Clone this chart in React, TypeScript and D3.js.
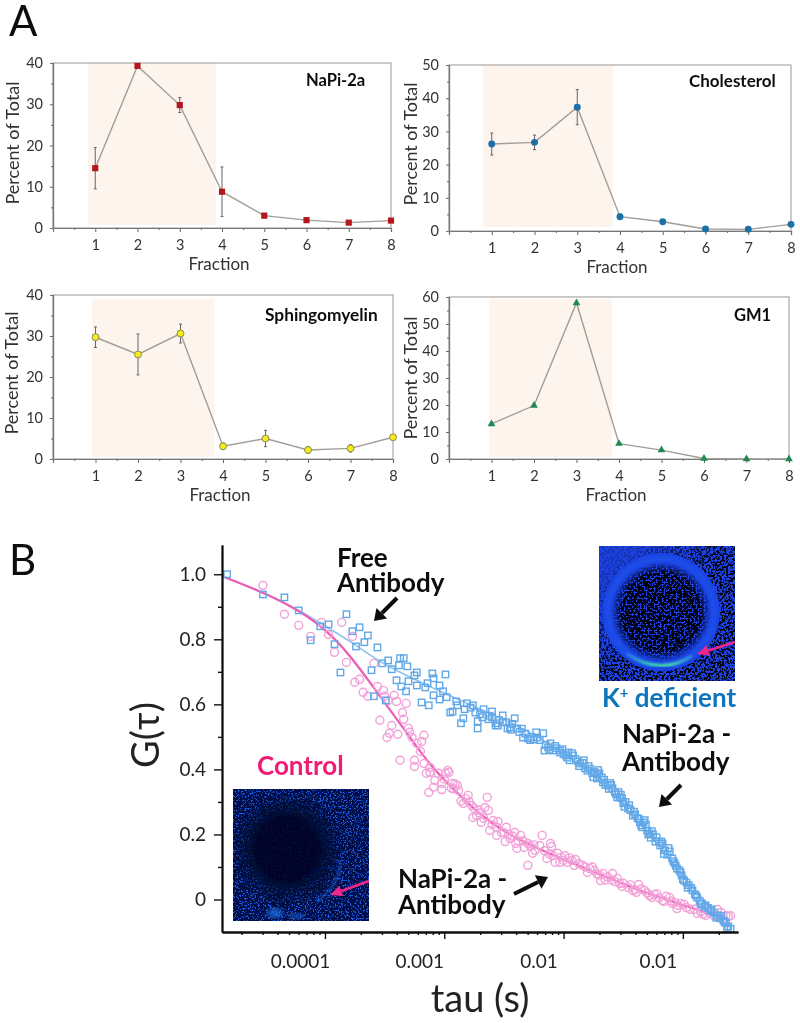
import { useEffect, useRef } from 'react';
import * as d3 from 'd3';

// panel A: percent of total per fraction, 0 error = no visible error bar
const fractions = [1, 2, 3, 4, 5, 6, 7, 8];
const napiValues = [14.5, 39.3, 29.8, 8.8, 3.0, 1.9, 1.3, 1.8];
const napiErrors = [5, 0, 1.8, 6, 0.5, 0, 0, 0];
const cholValues = [26.2, 26.7, 37.3, 4.3, 2.8, 0.6, 0.5, 2.0];
const cholErrors = [3.3, 2.2, 5.3, 0.8, 0, 0, 0, 0];
const sphingoValues = [29.7, 25.5, 30.6, 3.1, 5.0, 2.2, 2.6, 5.3];
const sphingoErrors = [2.5, 5, 2.3, 0.8, 2, 0.8, 0.9, 0.5];
const gm1Values = [13, 19.8, 57.8, 5.7, 3.3, 0.2, 0, 0];
const gm1Errors = [0, 0, 0, 0, 0, 0, 0, 0];

// panel B: [log10 tau, G]
const freeFit = [[-4.84, .991], [-4.52, .945], [-4.21, .889], [-3.87, .812], [-3.73, .78], [-3.54, .729], [-3.2, .668], [-2.87, .612], [-2.37, .535], [-2.03, .458], [-1.7, .37], [-1.36, .237], [-1, .068], [-.62, -.086]];
const controlFit = [[-4.84, .991], [-4.52, .945], [-4.21, .889], [-3.93, .812], [-3.71, .712], [-3.51, .61], [-3.31, .511], [-3.12, .412], [-2.89, .326], [-2.68, .255], [-2.45, .197], [-2.22, .158], [-1.97, .118], [-1.84, .1], [-1.44, .037], [-1, -.018], [-.77, -.043], [-.65, -.058]];

const deficientPoints = [
  [-4.82, 1], [-4.52, .938], [-4.34, .929], [-4.22, .889], [-4.04, .84], [-3.97, .846], [-3.82, .877], [-3.77, .825], [-3.71, .837], [-3.64, .812],
  [-3.67, .791], [-3.74, .778], [-3.92, .785], [-4.12, .797], [-3.56, .775], [-3.87, .698], [-3.61, .705], [-3.52, .726], [-3.47, .735], [-3.59, .625],
  [-3.49, .612], [-3.44, .708], [-3.37, .742], [-3.34, .742], [-3.38, .72], [-3.31, .717], [-3.23, .698], [-3.25, .689], [-2.99, .692], [-3.1, .695],
  [-3.4, .674], [-3.3, .671], [-3.36, .655], [-3.32, .64], [-3.23, .658], [-3.14, .665], [-3.16, .652], [-3.09, .68], [-3.04, .658], [-3.01, .64],
  [-3.09, .628], [-3.04, .615], [-2.98, .622], [-3.19, .606], [-3.13, .597], [-2.9, .609], [-2.89, .597], [-2.81, .603], [-2.76, .597], [-2.83, .585],
  [-2.95, .575], [-2.93, .578], [-2.74, .575], [-2.67, .585], [-2.6, .578], [-2.51, .566], [-2.84, .557], [-2.86, .542], [-2.72, .548], [-2.68, .56],
  [-2.63, .554], [-2.57, .535], [-2.72, .526], [-2.47, .526], [-2.51, .545], [-2.45, .529], [-2.41, .557], [-2.56, .542], [-2.39, .526], [-2.34, .498],
  [-2.23, .514], [-2.17, .511], [-2.3, .495], [-2.11, .48], [-2.16, .458], [-2.09, .458], [-2.03, .458], [-2.03, .452], [-1.98, .443], [-1.92, .443],
  [-1.95, .428], [-1.86, .418], [-1.82, .403], [-1.76, .388], [-1.7, .388], [-1.72, .385], [-1.67, .36], [-1.63, .351], [-1.59, .342], [-1.55, .314],
  [-1.51, .311], [-1.53, .314], [-1.46, .28], [-1.42, .258], [-1.36, .237], [-1.33, .237], [-1.3, .212], [-1.28, .203], [-1.22, .191], [-1.19, .166],
  [-1.15, .151], [-1.09, .126], [-1.05, .095], [-1.01, .074], [-.97, .052], [-.92, .028], [-.88, .006], [-.84, -.012], [-.77, -.034], [-.71, -.049],
  [-.66, -.065], [-.62, -.083], [-2.13, .468], [-2.06, .465], [-2, .447], [-1.96, .452], [-1.9, .432], [-1.88, .425], [-1.84, .42], [-1.8, .396],
  [-1.78, .402], [-1.74, .392], [-1.72, .372], [-1.68, .375], [-1.65, .352], [-1.61, .358], [-1.57, .33], [-1.54, .33], [-1.5, .296], [-1.48, .3],
  [-1.44, .275], [-1.4, .262], [-1.38, .25], [-1.34, .222], [-1.31, .23], [-1.27, .19], [-1.25, .2], [-1.2, .178], [-1.17, .172], [-1.13, .138],
  [-1.11, .148], [-1.07, .112], [-1.03, .09], [-.99, .058], [-.95, .044], [-.9, .016], [-.86, -.004], [-.82, -.022], [-.79, -.026], [-.74, -.04],
  [-.69, -.058], [-.64, -.072], [-.6, -.09], [-2.78, .59], [-2.7, .57], [-2.62, .565], [-2.54, .552], [-2.48, .545], [-2.43, .54], [-2.37, .515],
  [-2.32, .51], [-2.27, .5], [-2.25, .492], [-2.2, .49], [-2.15, .475],
  [-2.6, .56], [-2.55, .535], [-2.44, .522], [-2.35, .525], [-2.28, .49], [-2.22, .498], [-2.12, .46], [-2.07, .472], [-2.01, .462], [-1.97, .436],
  [-1.93, .45], [-1.87, .41], [-1.83, .428], [-1.79, .41], [-1.75, .376], [-1.71, .398], [-1.66, .368], [-1.62, .34], [-1.6, .352], [-1.56, .324],
  [-1.52, .322], [-1.49, .285], [-1.45, .29], [-1.41, .27], [-1.37, .248], [-1.35, .228], [-1.32, .244], [-1.29, .2], [-1.26, .21], [-1.23, .178],
  [-1.18, .178], [-1.16, .14], [-1.12, .158], [-1.08, .118], [-1.06, .104], [-1.02, .084], [-1, .062], [-.96, .036], [-.93, .036], [-.89, .012],
  [-.85, -.014], [-.81, -.018], [-.76, -.03], [-.72, -.056], [-.68, -.05], [-.65, -.07], [-.63, -.088],
];

const controlPoints = [
  [-4.52, .966], [-4.34, .877], [-4.22, .843], [-4.12, .809], [-4.03, .852], [-3.86, .852], [-3.97, .815], [-3.77, .809], [-3.92, .76], [-3.82, .729],
  [-3.59, .726], [-3.75, .668], [-3.71, .677], [-3.68, .637], [-3.64, .625], [-3.56, .655], [-3.51, .643], [-3.5, .625], [-3.47, .612], [-3.42, .628],
  [-3.4, .609], [-3.32, .603], [-3.35, .575], [-3.34, .554], [-3.54, .551], [-3.44, .535], [-3.3, .526], [-3.29, .514], [-3.46, .511], [-3.39, .508],
  [-3.48, .498], [-3.17, .505], [-3.19, .486], [-3.27, .498], [-3.23, .48], [-3.2, .455], [-3.37, .428], [-3.25, .428], [-3.17, .418], [-3.25, .409],
  [-3.12, .406], [-2.97, .397], [-3.12, .391], [-3.15, .388], [-2.96, .391], [-2.99, .388], [-3.05, .388], [-3.08, .366], [-3.02, .357], [-2.93, .357],
  [-2.89, .351], [-3.09, .345], [-3.13, .329], [-3.02, .338], [-2.94, .342], [-2.88, .335], [-2.8, .32], [-2.64, .314], [-2.86, .302], [-2.84, .295],
  [-2.77, .289], [-2.66, .283], [-2.63, .274], [-2.76, .252], [-2.73, .258], [-2.69, .237], [-2.59, .243], [-2.62, .212], [-2.56, .222], [-2.56, .197],
  [-2.48, .222], [-2.52, .206], [-2.49, .178], [-2.41, .206], [-2.45, .188], [-2.36, .197], [-2.39, .157], [-2.33, .16], [-2.3, .172], [-2.26, .142],
  [-2.18, .197], [-2.24, .151], [-2.2, .166], [-2.11, .172], [-2.14, .126], [-2.3, .105], [-2.05, .142], [-2.07, .114], [-1.99, .135], [-1.97, .114],
  [-2.1, .163], [-2.09, .135], [-2.03, .114], [-1.9, .123], [-1.93, .12], [-1.84, .105], [-1.8, .083], [-1.74, .089], [-1.69, .058], [-1.67, .08],
  [-1.59, .08], [-1.55, .065], [-1.53, .049], [-1.46, .037], [-1.37, .046], [-1.42, .028], [-1.32, .028], [-1.22, .018], [-1.26, .006], [-1.17, -.003],
  [-1.11, .006], [-1.07, -.009], [-1.05, -.028], [-.97, -.025], [-.88, -.043], [-.81, -.049], [-.71, -.031], [-.62, -.052], [-.66, -.058], [-.77, -.043],
  [-2.92, .34], [-2.82, .31], [-2.75, .28], [-2.7, .265], [-2.6, .23], [-2.5, .205], [-2.43, .195], [-2.38, .18], [-2.28, .165], [-2.16, .15],
  [-2.02, .13], [-1.95, .128], [-1.87, .11], [-1.78, .095], [-1.72, .078], [-1.63, .07], [-1.57, .055], [-1.5, .05], [-1.4, .03], [-1.35, .032],
  [-1.28, .012], [-1.2, .005], [-1.14, .01], [-1.09, -.012], [-1.02, -.012], [-.94, -.03], [-.85, -.038], [-.74, -.05], [-.68, -.04], [-.6, -.05],
  [-3.0, .37], [-2.91, .355], [-2.79, .3], [-2.71, .275], [-2.67, .25], [-2.55, .24], [-2.46, .2], [-2.4, .172], [-2.34, .18], [-2.25, .168],
  [-2.12, .14], [-2.0, .12], [-1.91, .105], [-1.82, .1], [-1.76, .1], [-1.7, .075], [-1.65, .06], [-1.6, .06], [-1.51, .04], [-1.44, .045],
  [-1.39, .022], [-1.3, .02], [-1.24, .015], [-1.16, -.006], [-1.1, -.005], [-1.04, -.018], [-.99, -.015], [-.9, -.03], [-.83, -.045], [-.79, -.035],
  [-.7, -.05], [-.64, -.05],
];

const gTickLabels = ['0', '0.2', '0.4', '0.6', '0.8', '1.0'];
const gTicks = [0, 0.2, 0.4, 0.6, 0.8, 1.0];
const gMinorTicks = [0.1, 0.3, 0.5, 0.7, 0.9];
const tauTicks = [1e-4, 1e-3, 1e-2, 1e-1];
const tauTickLabels = ['0.0001', '0.001', '0.01', '0.01'];

const FONT = 'Lato, "Open Sans", sans-serif';

const panels = [
  { title: 'NaPi-2a', values: napiValues, errors: napiErrors, yMax: 40, yStep: 10, box: [53, 391, 63, 228], shade: [0.83, 3.86, 40, 0.7], titleAt: [306, 86, 16.5], yTitle: [19, 143], marker: 'square', color: '#b3141c' },
  { title: 'Cholesterol', values: cholValues, errors: cholErrors, yMax: 50, yStep: 10, box: [449, 791, 65, 231], shade: [0.8, 3.83, 50, 1.2], titleAt: [689, 87, 17], yTitle: [417, 144], marker: 'circle', color: '#1f6fa8' },
  { title: 'Sphingomyelin', values: sphingoValues, errors: sphingoErrors, yMax: 40, yStep: 10, box: [53, 393, 295, 459], shade: [0.92, 3.8, 39, 0.5], titleAt: [265, 321, 17.3], yTitle: [18, 373], marker: 'circle', color: '#f4ec12' },
  { title: 'GM1', values: gm1Values, errors: gm1Errors, yMax: 60, yStep: 10, box: [449, 789, 297, 459], shade: [0.94, 3.83, 59.3, 0.7], titleAt: [734, 321, 16.5], yTitle: [417, 378], marker: 'triangle', color: '#1e8a50' },
];

const arrows = [
  [397, 598, 374, 621],
  [681, 785, 659, 807],
  [514, 894, 548, 877],
];

const labels = [
  { lines: ['A'], x: 9, y: 36, step: 0, size: 42, color: '#111', weight: 400 },
  { lines: ['B'], x: 9, y: 575, step: 0, size: 42, color: '#111', weight: 400 },
  { lines: ['Free', 'Antibody'], x: 337, y: 567, step: 25, size: 26, color: '#111', weight: 700 },
  { lines: ['NaPi-2a -', 'Antibody'], x: 622, y: 743, step: 28, size: 26, color: '#111', weight: 700 },
  { lines: ['NaPi-2a -', 'Antibody'], x: 398, y: 888, step: 26, size: 26, color: '#111', weight: 700 },
  { lines: ['Control'], x: 257, y: 775, step: 0, size: 26, color: '#ee1a72', weight: 700 },
];

function drawPanel(root: any, p: any) {
  const [left, right, top, bottom] = p.box;
  const x = d3.scaleLinear().domain([0, 8]).range([left, right]);
  const y = d3.scaleLinear().domain([0, p.yMax]).range([bottom, top]);
  const g = root.append('g');

  g.append('rect')
    .attr('x', x(p.shade[0]))
    .attr('y', y(p.shade[2]))
    .attr('width', x(p.shade[1]) - x(p.shade[0]))
    .attr('height', y(p.shade[3]) - y(p.shade[2]))
    .attr('fill', '#fdf4ee');

  g.append('rect')
    .attr('x', left).attr('y', top)
    .attr('width', right - left).attr('height', bottom - top)
    .attr('fill', 'none').attr('stroke', '#a8a8a8').attr('stroke-width', 1.2);

  const yAxis = d3.axisLeft(y).tickValues(d3.range(0, p.yMax + 1, p.yStep)).tickSize(3).tickPadding(7);
  const xAxis = d3.axisBottom(x).tickValues(fractions).tickSize(4).tickPadding(8);
  const yMinor = d3.axisRight(y).tickValues(d3.range(p.yStep / 2, p.yMax, p.yStep)).tickSize(-2).tickFormat(() => '');
  const xMinor = d3.axisBottom(x).tickValues(d3.range(0.5, 8, 1)).tickSize(2).tickFormat(() => '');

  [
    { axis: yAxis, at: `translate(${left},0)` },
    { axis: xAxis, at: `translate(0,${bottom})` },
    { axis: yMinor, at: `translate(${left},0)` },
    { axis: xMinor, at: `translate(0,${bottom})` },
  ].forEach(({ axis, at }) => {
    g.append('g')
      .attr('transform', at)
      .call(axis)
      .call((a: any) => a.selectAll('.domain').attr('stroke', '#777').attr('stroke-width', 1.2))
      .call((a: any) => a.selectAll('line').attr('stroke', '#666'))
      .call((a: any) => a.selectAll('text').attr('fill', '#333').attr('font-size', 14.5).attr('font-family', FONT));
  });

  const line = d3.line<number>().x((_, i) => x(fractions[i])).y(d => y(d));
  g.append('path')
    .attr('d', line(p.values))
    .attr('fill', 'none')
    .attr('stroke', '#a39d96')
    .attr('stroke-width', 1.4);

  p.values.forEach((v: number, i: number) => {
    const e = p.errors[i];
    if (!e) return;
    const cx = x(fractions[i]);
    g.append('line').attr('x1', cx).attr('x2', cx).attr('y1', y(v - e)).attr('y2', y(v + e)).attr('stroke', '#666').attr('stroke-width', 1);
    [v - e, v + e].forEach(c => {
      g.append('line').attr('x1', cx - 1.5).attr('x2', cx + 1.5).attr('y1', y(c)).attr('y2', y(c)).attr('stroke', '#666');
    });
  });

  const symbolType = p.marker === 'square' ? d3.symbolSquare : p.marker === 'circle' ? d3.symbolCircle : d3.symbolTriangle;
  const symbol = d3.symbol().type(symbolType).size(p.marker === 'triangle' ? 26 : 38);
  p.values.forEach((v: number, i: number) => {
    g.append('path')
      .attr('d', symbol())
      .attr('transform', `translate(${x(fractions[i])},${y(v)})`)
      .attr('fill', p.color)
      .attr('stroke', p.color === '#f4ec12' ? '#8a8a60' : 'none');
  });

  g.append('text')
    .attr('x', p.titleAt[0]).attr('y', p.titleAt[1])
    .attr('font-size', p.titleAt[2]).attr('font-weight', 700)
    .attr('font-family', FONT).attr('fill', '#111')
    .text(p.title);

  g.append('text')
    .attr('x', (left + right) / 2 - 3).attr('y', bottom + 42)
    .attr('text-anchor', 'middle')
    .attr('font-size', 17).attr('font-family', FONT).attr('fill', '#333')
    .text('Fraction');

  g.append('text')
    .attr('transform', `translate(${p.yTitle[0]},${p.yTitle[1]}) rotate(-90)`)
    .attr('text-anchor', 'middle')
    .attr('font-size', 18).attr('font-family', FONT).attr('fill', '#333')
    .text('Percent of Total');
}

function drawCorrelation(root: any) {
  const x = d3.scaleLog().domain([10 ** -4.863, 10 ** -0.538]).range([222, 738]);
  const y = d3.scaleLinear().domain([-0.1, 1.09]).range([932, 545]);
  const g = root.append('g');
  const px = (d: number[]) => x(10 ** d[0]);
  const py = (d: number[]) => y(d[1]);

  const fit = d3.line<number[]>().x(px).y(py).curve(d3.curveBasis);
  g.append('path').attr('d', fit(freeFit)).attr('fill', 'none').attr('stroke', '#8cc3ef').attr('stroke-width', 1.6);
  g.append('path').attr('d', fit(controlFit)).attr('fill', 'none').attr('stroke', '#ee5cb6').attr('stroke-width', 2.2);

  g.selectAll('circle.control')
    .data(controlPoints)
    .join('circle')
    .attr('class', 'control')
    .attr('cx', px).attr('cy', py).attr('r', 4)
    .attr('fill', 'none').attr('stroke', '#f2a0d8').attr('stroke-width', 1.4);

  g.selectAll('rect.deficient')
    .data(deficientPoints)
    .join('rect')
    .attr('class', 'deficient')
    .attr('x', (d: number[]) => px(d) - 3.2).attr('y', (d: number[]) => py(d) - 3.2)
    .attr('width', 6.4).attr('height', 6.4)
    .attr('fill', 'none').attr('stroke', '#62a8e8').attr('stroke-width', 1.4);

  const style = (a: any) => {
    a.selectAll('.domain').attr('stroke', '#111').attr('stroke-width', 1.8);
    a.selectAll('line').attr('stroke', '#111').attr('stroke-width', 1.4);
    a.selectAll('text').attr('fill', '#222').attr('font-size', 19).attr('font-family', FONT);
  };

  g.append('g').attr('transform', 'translate(222,0)')
    .call(d3.axisLeft(y).tickValues(gMinorTicks).tickSize(4).tickSizeOuter(0).tickFormat(() => ''))
    .call(style);
  g.append('g').attr('transform', 'translate(222,0)')
    .call(d3.axisLeft(y).tickValues(gTicks).tickSize(8).tickSizeOuter(0).tickPadding(8)
      .tickFormat((_, i) => gTickLabels[i]))
    .call(style);

  const minor = x.ticks().filter(t => !tauTicks.some(m => Math.abs(m - t) / m < 1e-6));
  g.append('g').attr('transform', 'translate(0,932)')
    .call(d3.axisBottom(x).tickValues(minor).tickSize(3).tickSizeOuter(0).tickFormat(() => ''))
    .call(style);
  g.append('g').attr('transform', 'translate(0,932)')
    .call(d3.axisBottom(x).tickValues(tauTicks).tickSize(7).tickSizeOuter(0).tickPadding(16)
      .tickFormat((_, i) => tauTickLabels[i]))
    .call(style)
    .call((a: any) => a.selectAll('text').attr('dx', -25));

  g.append('text')
    .attr('x', 480).attr('y', 1012)
    .attr('text-anchor', 'middle')
    .attr('font-size', 38).attr('font-family', FONT).attr('fill', '#222')
    .text('tau (s)');

  g.append('text')
    .attr('transform', 'translate(159,735) rotate(-90)')
    .attr('text-anchor', 'middle')
    .attr('font-size', 38).attr('font-family', FONT).attr('fill', '#222')
    .text('G(τ)');
}

function drawLabels(root: any) {
  labels.forEach(l => {
    const t = root.append('text')
      .attr('x', l.x).attr('y', l.y)
      .attr('font-size', l.size).attr('font-weight', l.weight)
      .attr('font-family', FONT).attr('fill', l.color);
    l.lines.forEach((s, i) => {
      t.append('tspan').attr('x', l.x).attr('dy', i === 0 ? 0 : l.step).text(s);
    });
  });

  const k = root.append('text')
    .attr('x', 602).attr('y', 707)
    .attr('font-size', 26).attr('font-weight', 700)
    .attr('font-family', FONT).attr('fill', '#0f75bc');
  k.append('tspan').text('K');
  k.append('tspan').attr('font-size', 15).attr('dy', -9).text('+');
  k.append('tspan').attr('dy', 9).text(' deficient');

  arrows.forEach(([x1, y1, x2, y2]) => {
    const a = Math.atan2(y2 - y1, x2 - x1);
    const bx = x2 - 11 * Math.cos(a);
    const by = y2 - 11 * Math.sin(a);
    root.append('line')
      .attr('x1', x1).attr('y1', y1).attr('x2', bx).attr('y2', by)
      .attr('stroke', '#111').attr('stroke-width', 4);
    const nx = -Math.sin(a) * 7.5;
    const ny = Math.cos(a) * 7.5;
    root.append('path')
      .attr('d', `M${x2},${y2}L${bx + nx},${by + ny}L${bx - nx},${by - ny}Z`)
      .attr('fill', '#111');
  });
}

function pinkArrow(g: any, x1: number, y1: number, x2: number, y2: number) {
  const a = Math.atan2(y2 - y1, x2 - x1);
  const bx = x2 - 12 * Math.cos(a);
  const by = y2 - 12 * Math.sin(a);
  const nx = -Math.sin(a) * 5.5;
  const ny = Math.cos(a) * 5.5;
  g.append('line').attr('x1', x1).attr('y1', y1).attr('x2', bx).attr('y2', by).attr('stroke', '#f0288c').attr('stroke-width', 2.6);
  g.append('path').attr('d', `M${x2},${y2}L${bx + nx},${by + ny}L${bx - nx},${by - ny}Z`).attr('fill', '#f0288c');
}

// the two micrographs: speckle comes from an svg noise filter
function drawImages(root: any) {
  const defs = root.append('defs');
  const speckle = (id: string, freq: number, seed: number, r: number, g: number, b: number, k: number, c: number) => {
    const f = defs.append('filter').attr('id', id).attr('x', 0).attr('y', 0).attr('width', 1).attr('height', 1)
      .attr('color-interpolation-filters', 'sRGB');
    f.append('feTurbulence').attr('type', 'fractalNoise').attr('baseFrequency', freq).attr('numOctaves', 2).attr('seed', seed);
    f.append('feColorMatrix').attr('type', 'matrix').attr('values', `0 0 0 0 ${r} 0 0 0 0 ${g} 0 0 0 0 ${b} ${k} 0 0 0 ${-c}`);
  };
  speckle('darkDense', 0.45, 9, 0, 0, 0.03, 12, 5.7);
  speckle('darkHeavy', 0.5, 5, 0, 0, 0.03, 12, 5.0);
  speckle('blueSpeck', 0.6, 7, 0.1, 0.36, 0.92, 10, 5.5);

  const soft = defs.append('filter').attr('id', 'soft');
  soft.append('feGaussianBlur').attr('stdDeviation', 2);
  const softer = defs.append('filter').attr('id', 'softer');
  softer.append('feGaussianBlur').attr('stdDeviation', 0.8);

  const arc = defs.append('linearGradient').attr('id', 'arcGrad');
  [['0%', '#2c7be8'], ['35%', '#35d8b0'], ['65%', '#4ce8a0'], ['100%', '#2c8ae8']].forEach(([o, c]) => {
    arc.append('stop').attr('offset', o).attr('stop-color', c);
  });

  const cpK = defs.append('clipPath').attr('id', 'clipK');
  cpK.append('rect').attr('x', 599).attr('y', 546).attr('width', 136).attr('height', 135);
  const cpC = defs.append('clipPath').attr('id', 'clipC');
  cpC.append('rect').attr('x', 233).attr('y', 789).attr('width', 136).attr('height', 132);

  // outside the ring the dark speckle thickens towards the lower right
  const outerFade = defs.append('linearGradient').attr('id', 'outerFade').attr('x1', 0).attr('y1', 0).attr('x2', 1).attr('y2', 1);
  outerFade.append('stop').attr('offset', '12%').attr('stop-color', '#333');
  outerFade.append('stop').attr('offset', '50%').attr('stop-color', '#fff');
  const outerMask = defs.append('mask').attr('id', 'outerMask');
  outerMask.append('rect').attr('x', 599).attr('y', 546).attr('width', 136).attr('height', 135).attr('fill', 'url(#outerFade)');
  outerMask.append('circle').attr('cx', 661).attr('cy', 612).attr('r', 59).attr('fill', '#000');

  // inside the ring it fades out near the membrane
  const innerFade = defs.append('radialGradient').attr('id', 'innerFade');
  innerFade.append('stop').attr('offset', '78%').attr('stop-color', '#fff');
  innerFade.append('stop').attr('offset', '100%').attr('stop-color', '#000');
  const innerMask = defs.append('mask').attr('id', 'innerMask');
  innerMask.append('circle').attr('cx', 661).attr('cy', 612).attr('r', 50).attr('fill', 'url(#innerFade)');

  const k = root.append('g').attr('clip-path', 'url(#clipK)');
  k.append('rect').attr('x', 599).attr('y', 546).attr('width', 136).attr('height', 135).attr('fill', '#1b42e2');
  k.append('rect').attr('x', 599).attr('y', 546).attr('width', 136).attr('height', 135).attr('filter', 'url(#darkDense)').attr('mask', 'url(#outerMask)');
  k.append('rect').attr('x', 605).attr('y', 556).attr('width', 112).attr('height', 112).attr('filter', 'url(#darkHeavy)').attr('mask', 'url(#innerMask)');
  k.append('circle').attr('cx', 661).attr('cy', 612).attr('r', 53).attr('fill', 'none').attr('stroke', '#2460f0').attr('stroke-width', 4).attr('opacity', 0.6).attr('filter', 'url(#soft)');
  k.append('path').attr('d', 'M627,654Q660,676 692,656').attr('fill', 'none').attr('stroke', 'url(#arcGrad)').attr('stroke-width', 3).attr('filter', 'url(#softer)');
  pinkArrow(k, 735, 642, 697, 654);

  const c = root.append('g').attr('clip-path', 'url(#clipC)');
  c.append('rect').attr('x', 233).attr('y', 789).attr('width', 136).attr('height', 132).attr('fill', '#020c44');
  c.append('rect').attr('x', 233).attr('y', 789).attr('width', 136).attr('height', 132).attr('filter', 'url(#blueSpeck)');
  const grad = defs.append('radialGradient').attr('id', 'voidGrad');
  grad.append('stop').attr('offset', '55%').attr('stop-color', '#00062a').attr('stop-opacity', 0.97);
  grad.append('stop').attr('offset', '100%').attr('stop-color', '#00062a').attr('stop-opacity', 0);
  c.append('circle').attr('cx', 287).attr('cy', 849).attr('r', 58).attr('fill', 'url(#voidGrad)');
  c.append('ellipse').attr('cx', 275).attr('cy', 913).attr('rx', 8).attr('ry', 5).attr('fill', '#1e6fe0').attr('opacity', 0.75).attr('filter', 'url(#soft)');
  c.append('ellipse').attr('cx', 296).attr('cy', 916).attr('rx', 8).attr('ry', 3).attr('fill', '#1a5cc8').attr('opacity', 0.7).attr('filter', 'url(#soft)');
  c.append('path').attr('d', 'M341,860Q340,885 316,902').attr('fill', 'none').attr('stroke', '#1a62d8').attr('stroke-width', 2).attr('opacity', 0.7).attr('filter', 'url(#softer)');
  pinkArrow(c, 369, 881, 330, 895);
}

export default function App() {
  const svgRef = useRef<SVGSVGElement>(null);

  useEffect(() => {
    if (!svgRef.current) return;
    const svg = d3.select(svgRef.current);
    svg.selectAll('*').remove();
    svg.append('rect').attr('width', 800).attr('height', 1023).attr('fill', '#fff');

    // the source figure is a soft raster, a slight blur brings the sharp vectors closer
    const blur = svg.append('defs').append('filter').attr('id', 'pageBlur');
    blur.append('feGaussianBlur').attr('stdDeviation', 0.45);
    const root = svg.append('g').attr('filter', 'url(#pageBlur)');

    panels.forEach(p => drawPanel(root, p));
    drawImages(root);
    drawCorrelation(root);
    drawLabels(root);
  }, []);

  return <svg ref={svgRef} width={800} height={1023} style={{ position: 'absolute', left: 0, top: 0 }} />;
}
